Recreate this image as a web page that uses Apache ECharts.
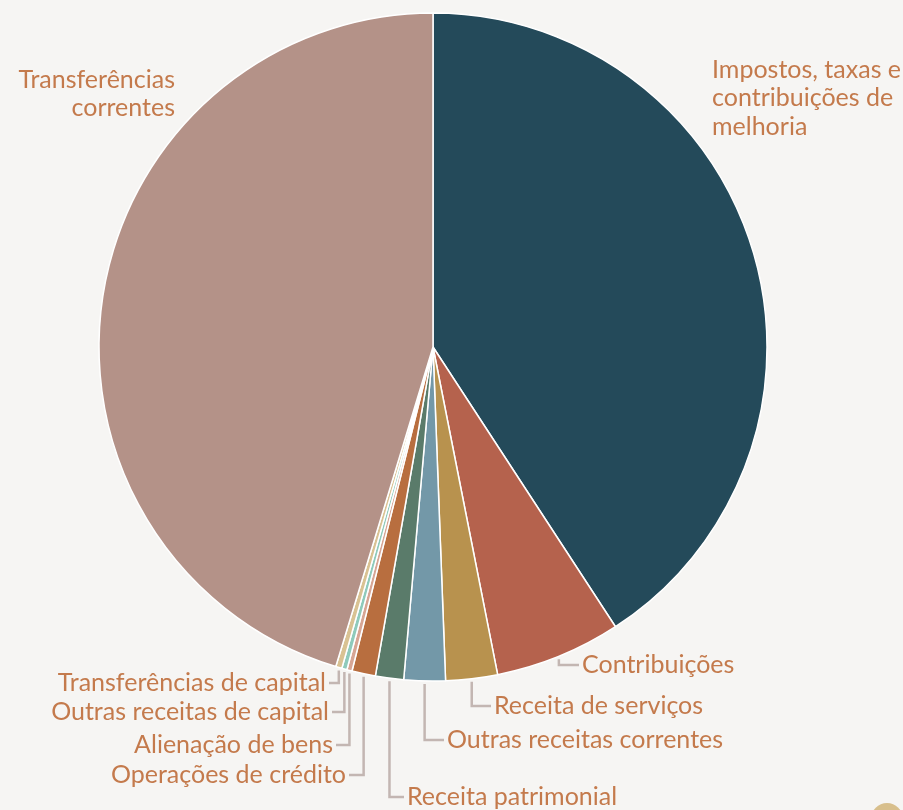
<!DOCTYPE html>
<html>
<head>
<meta charset="utf-8">
<script src="https://cdn.jsdelivr.net/npm/echarts@6/dist/echarts.min.js"></script>
<style>
  html, body { margin: 0; padding: 0; background: #f6f5f3; }
  #chart { width: 903px; height: 810px; }
</style>
</head>
<body>
<div id="chart"></div>
<script>
// categorias, no sentido horário a partir do topo
const categorias = [
  'Impostos, taxas e\ncontribuições de\nmelhoria',
  'Contribuições',
  'Receita de serviços',
  'Outras receitas correntes',
  'Receita patrimonial',
  'Operações de crédito',
  'Alienação de bens',
  'Outras receitas de capital',
  'Transferências de capital',
  'Transferências\ncorrentes'
];

// participação (%)
const valores = [40.8, 6.1, 2.5, 2.0, 1.36, 1.14, 0.25, 0.25, 0.3, 45.3];

const cores = [
  '#244a5a', '#b5624d', '#b8924e', '#7398a8', '#5a7b6a',
  '#b86e3f', '#d7a594', '#8fcabb', '#d9c293', '#b49288'
];

// posição dos rótulos: [x, y, lado]  (lado 'right' = texto à direita da linha)
const rotulos = [
  [712, 98, 'top'],
  [582, 665, 'right'],
  [494, 706, 'right'],
  [447, 740, 'right'],
  [407, 797, 'right'],
  [346, 775, 'left'],
  [333, 745, 'left'],
  [329, 712, 'left'],
  [326, 683, 'left'],
  [175, 94, 'top-left']
];

const chart = echarts.init(document.getElementById('chart'));

const dados = categorias.map((nome, i) => ({
  name: nome,
  value: valores[i],
  itemStyle: { color: cores[i] },
  labelLine: { show: rotulos[i][2].indexOf('top') !== 0 }
}));

chart.setOption({
  animation: false,
  backgroundColor: '#f6f5f3',
  graphic: [{
    type: 'circle',
    shape: { cx: 887, cy: 819, r: 16 },
    style: { fill: '#d8bf8c' }
  }],
  series: [{
    type: 'pie',
    center: [433, 347],
    radius: 334,
    startAngle: 90,
    clockwise: true,
    avoidLabelOverlap: false,
    emphasis: { disabled: true },
    itemStyle: { borderColor: '#ffffff', borderWidth: 1.5 },
    label: {
      show: true,
      position: 'outside',
      formatter: '{b}',
      color: '#c47a4c',
      fontFamily: 'Lato',
      fontSize: 25,
      lineHeight: 28.5
    },
    labelLine: {
      show: true,
      length: 10,
      length2: 10,
      lineStyle: { color: '#c3b6b2', width: 2.5 }
    },
    labelLayout: function (params) {
      const pos = rotulos[params.dataIndex];
      const x = pos[0], y = pos[1], lado = pos[2];
      if (lado === 'top') {
        return { x: x, y: y, align: 'left', verticalAlign: 'middle' };
      }
      if (lado === 'top-left') {
        return { x: x, y: y, align: 'right', verticalAlign: 'middle' };
      }
      const p0 = params.labelLinePoints[0];
      const fimX = lado === 'left' ? x + 3 : x - 3;
      return {
        x: x,
        y: y,
        align: lado === 'left' ? 'right' : 'left',
        verticalAlign: 'middle',
        labelLinePoints: [[p0[0], p0[1] + 3], [p0[0], y], [fimX, y]]
      };
    },
    data: dados
  }]
});
</script>
</body>
</html>
